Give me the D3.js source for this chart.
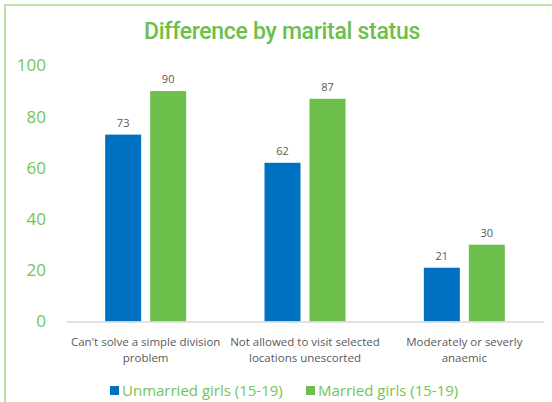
<!DOCTYPE html>
<meta charset="utf-8">
<head>
<style>
  body { margin: 0; background: #fff; }
  svg { display: block; font-family: "Open Sans", "Liberation Sans", sans-serif; }
</style>
</head>
<body>
<script src="https://d3js.org/d3.v7.js"></script>
<svg width="552" height="402"></svg>
<script>
// chart data
var categories = [
    ["Can't solve a simple division", "problem"],
    ["Not allowed to visit selected", "locations unescorted"],
    ["Moderately or severly", "anaemic"]
];
var seriesNames = ["Unmarried girls (15-19)", "Married girls (15-19)"];
var unmarried = [73, 62, 21];
var married = [90, 87, 30];
var yTicks = [0, 20, 40, 60, 80, 100];

var blue = "#0070c0",
    green = "#6cbf4a",
    labelGreen = "#74c452",
    grey = "#595959";

var svg = d3.select("svg");

// light green frame (top and left only visible)
svg.append("path")
    .attr("d", "M5,402 V5 H552")
    .attr("fill", "none")
    .attr("stroke", "#a6da8e")
    .attr("stroke-width", 1.6);

// title
svg.append("text")
    .attr("x", 282)
    .attr("y", 39)
    .attr("text-anchor", "middle")
    .attr("fill", green)
    .attr("font-family", "Roboto, sans-serif")
    .attr("font-weight", 500)
    .attr("font-size", "23px")
    .attr("letter-spacing", "-0.3px")
    .text("Difference by marital status");

var rows = categories.map(function (c, i) {
    return { key: i, values: [unmarried[i], married[i]] };
});

var x0 = d3.scaleBand().domain(d3.range(categories.length)).range([66, 544]).padding(0);
var groupW = 81;
var x1 = d3.scaleBand().domain([0, 1]).range([0, groupW]).paddingInner(0.2);
var y = d3.scaleLinear().domain([0, 100]).range([321.5, 65.5]);
var color = d3.scaleOrdinal().domain([0, 1]).range([blue, green]);

// y axis labels (no line)
var yAxis = svg.append("g")
    .attr("transform", "translate(46,0)")
    .call(d3.axisLeft(y).tickValues(yTicks).tickSize(0).tickPadding(0));
yAxis.select(".domain").remove();
yAxis.selectAll("text")
    .attr("fill", labelGreen)
    .attr("font-family", "Open Sans, sans-serif")
    .attr("font-size", "17px");

// bars
var groups = svg.append("g").selectAll("g")
    .data(rows)
    .enter().append("g")
    .attr("transform", function (d) {
        return "translate(" + (x0(d.key) + (x0.bandwidth() - groupW) / 2) + ",0)";
    });

groups.selectAll("rect")
    .data(function (d) { return d.values.map(function (v, j) { return { s: j, v: v }; }); })
    .enter().append("rect")
    .attr("x", function (d) { return x1(d.s); })
    .attr("y", function (d) { return y(d.v); })
    .attr("width", x1.bandwidth())
    .attr("height", function (d) { return y(0) - y(d.v); })
    .attr("fill", function (d) { return color(d.s); });

groups.selectAll("text.val")
    .data(function (d) { return d.values.map(function (v, j) { return { s: j, v: v }; }); })
    .enter().append("text")
    .attr("class", "val")
    .attr("x", function (d) { return x1(d.s) + x1.bandwidth() / 2; })
    .attr("y", function (d) { return y(d.v) - 8; })
    .attr("text-anchor", "middle")
    .attr("fill", grey)
    .attr("font-size", "11px")
    .text(function (d) { return d.v; });

// x axis
var xAxis = svg.append("g")
    .attr("transform", "translate(0," + y(0) + ")")
    .call(d3.axisBottom(x0).tickSize(0).tickFormat(""));
xAxis.select(".domain")
    .attr("stroke", "#d9d9d9")
    .attr("stroke-width", 1.5);

var catLabels = svg.append("g").selectAll("text")
    .data(categories)
    .enter().append("text")
    .attr("x", function (d, i) { return x0(i) + x0.bandwidth() / 2; })
    .attr("y", 346)
    .attr("text-anchor", "middle")
    .attr("fill", grey)
    .attr("font-size", "11.5px");
catLabels.selectAll("tspan")
    .data(function (d) { return d; })
    .enter().append("tspan")
    .attr("x", function () { return this.parentNode.getAttribute("x"); })
    .attr("dy", function (d, i) { return i === 0 ? 0 : 16; })
    .text(function (d) { return d; });

// legend
var legendX = [110, 306];
var legend = svg.append("g").selectAll("g")
    .data(seriesNames)
    .enter().append("g")
    .attr("transform", function (d, i) { return "translate(" + legendX[i] + ",386)"; });
legend.append("rect")
    .attr("width", 9)
    .attr("height", 9)
    .attr("fill", function (d, i) { return color(i); });
legend.append("text")
    .attr("x", 12)
    .attr("y", 10)
    .attr("fill", labelGreen)
    .attr("font-size", "15px")
    .text(function (d) { return d; });
</script>
</body>
</html>
